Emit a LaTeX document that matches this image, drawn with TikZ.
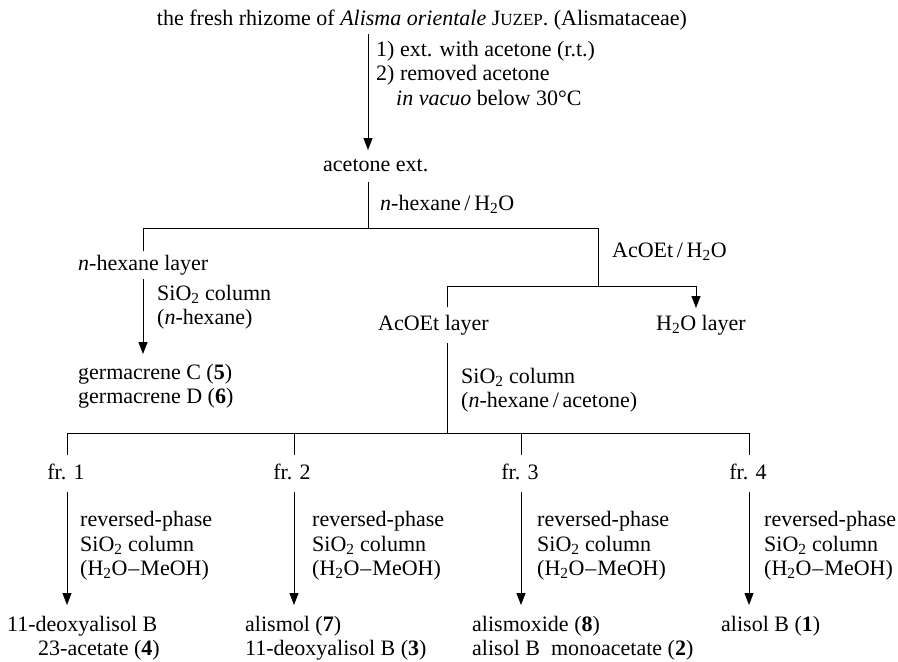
\documentclass[tikz,border=0pt]{standalone}
\usepackage{fontspec}
\setmainfont{Liberation Serif}
\usetikzlibrary{arrows.meta}
\newcommand{\smc}[1]{{\fontsize{17}{17}\selectfont #1}}
\newcommand{\hmeoh}{(H\textsubscript{2}O\kern1pt--\kern1pt MeOH)}
\begin{document}
\begin{tikzpicture}[x=1pt,y=-1pt,
  every node/.style={font=\fontsize{22}{24.5}\selectfont, inner sep=0pt, align=left},
  lbl/.style={anchor=west},
  ln/.style={line width=1pt},
  arr/.style={line width=1pt,-{Triangle[width=9pt,length=12pt]}}]
\useasboundingbox (0,0) rectangle (898,662);

% ---- nodes ----
\node (title) at (422,20) {the fresh rhizome of \textit{Alisma orientale} J\smc{UZEP}. (Alismataceae)};
\node[lbl] (c1) at (376,73) {1) ext. with acetone (r.t.)\\2) removed acetone\\\hspace{20pt}\textit{in vacuo} below 30°C};
\node[lbl] (acet) at (323,165) {acetone ext.};
\node[lbl] (c2) at (380,204) {\textit{n}-hexane\,/\,H\textsubscript{2}O};
\node[lbl] (hexl) at (78,265) {\textit{n}-hexane layer};
\node[lbl] (c3) at (157,307) {SiO\textsubscript{2} column\\(\textit{n}-hexane)};
\node[lbl] (germ) at (78,386) {germacrene C (\textbf{5})\\germacrene D (\textbf{6})};
\node[lbl] (c4) at (612,252) {AcOEt\,/\,H\textsubscript{2}O};
\node[lbl] (etl) at (378,325) {AcOEt layer};
\node[lbl] (h2ol) at (656,325) {H\textsubscript{2}O layer};
\node[lbl] (c5) at (461,390) {SiO\textsubscript{2} column\\(\textit{n}-hexane\,/\,acetone)};

\node (f1) at (66,472) {fr. 1};
\node (f2) at (292,472) {fr. 2};
\node (f3) at (520,472) {fr. 3};
\node (f4) at (748,472) {fr. 4};

\node[lbl] (r1) at (80,546) {reversed-phase\\SiO\textsubscript{2} column\\\hmeoh};
\node[lbl] (r2) at (312,546) {reversed-phase\\SiO\textsubscript{2} column\\\hmeoh};
\node[lbl] (r3) at (537,546) {reversed-phase\\SiO\textsubscript{2} column\\\hmeoh};
\node[lbl] (r4) at (764,546) {reversed-phase\\SiO\textsubscript{2} column\\\hmeoh};

\node[lbl] (p1) at (7,638) {11-deoxyalisol B\\\hspace{31pt}23-acetate (\textbf{4})};
\node[lbl] (p2) at (245,638) {alismol (\textbf{7})\\11-deoxyalisol B (\textbf{3})};
\node[lbl] (p3) at (472,638) {alismoxide (\textbf{8})\\alisol B\ \ monoacetate (\textbf{2})};
\node[lbl] (p4) at (721,626) {alisol B (\textbf{1})};

% ---- junction coordinates ----
\coordinate (a1s) at (368,34);   \coordinate (a1e) at (368,150);
\coordinate (b1s) at (368,182);  \coordinate (b1j) at (368,228);
\coordinate (hL) at (143,228);   \coordinate (hR) at (598,228);
\coordinate (hLd) at (143,251);
\coordinate (g1s) at (143,279);  \coordinate (g1e) at (143,354);
\coordinate (hRd) at (598,286);
\coordinate (eL) at (447,286);   \coordinate (eLd) at (447,307);
\coordinate (eR) at (696,286);   \coordinate (eRd) at (696,308);
\coordinate (c5s) at (447,343);  \coordinate (c5j) at (447,433);
\coordinate (k1) at (67,433);  \coordinate (k2) at (294,433);
\coordinate (k3) at (521,433); \coordinate (k4) at (749,433);
\coordinate (k1d) at (67,455);  \coordinate (k2d) at (294,455);
\coordinate (k3d) at (521,455); \coordinate (k4d) at (749,455);
\coordinate (q1s) at (67,492);  \coordinate (q1e) at (67,605);
\coordinate (q2s) at (294,492); \coordinate (q2e) at (294,605);
\coordinate (q3s) at (521,492); \coordinate (q3e) at (521,605);
\coordinate (q4s) at (749,492); \coordinate (q4e) at (749,605);

% ---- connectors ----
\draw[arr] (a1s) -- (a1e);
\draw[ln] (b1s) -- (b1j);
\draw[ln] (hLd) -- (hL) -- (hR) -- (hRd);
\draw[arr] (g1s) -- (g1e);
\draw[ln] (eLd) -- (eL) -- (eR);
\draw[arr] (eR) -- (eRd);
\draw[ln] (c5s) -- (c5j);
\draw[ln] (k1d) -- (k1) -- (k4) -- (k4d);
\draw[ln] (k2) -- (k2d);
\draw[ln] (k3) -- (k3d);
\draw[arr] (q1s) -- (q1e);
\draw[arr] (q2s) -- (q2e);
\draw[arr] (q3s) -- (q3e);
\draw[arr] (q4s) -- (q4e);
\end{tikzpicture}
\end{document}
